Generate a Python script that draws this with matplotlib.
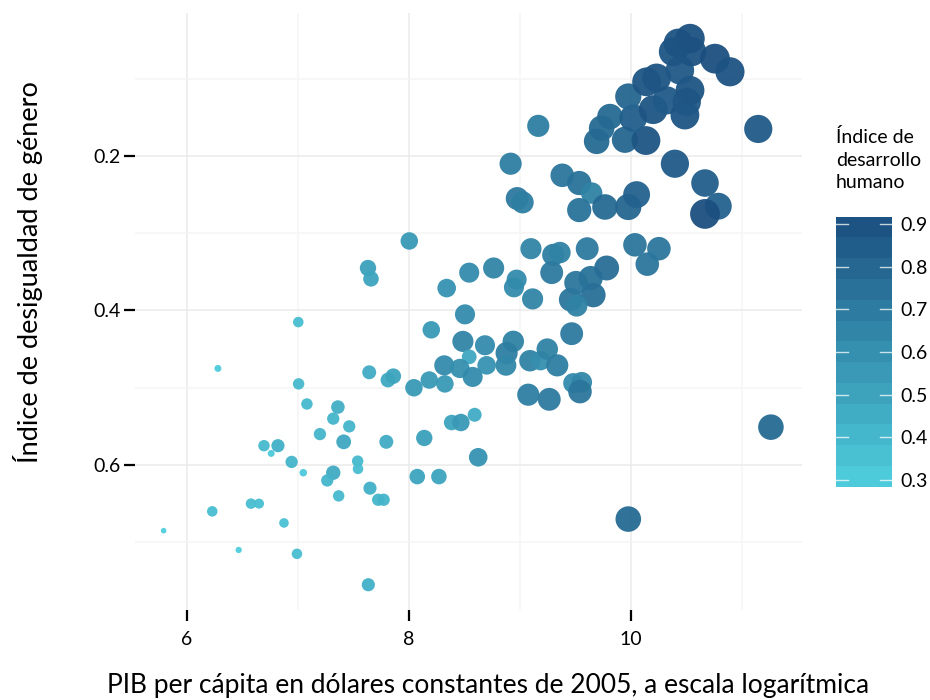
import numpy as np
import matplotlib
matplotlib.use('Agg')
import matplotlib.pyplot as plt
from matplotlib.colors import LinearSegmentedColormap, Normalize

plt.rcParams['font.family'] = ['Lato', 'DejaVu Sans']

# log GDP per capita, gender inequality index, human development index
gdp_log = [5.79, 6.466, 6.279, 6.228, 6.577, 6.649, 6.874, 6.991, 7.003, 7.006,
           7.081, 6.694, 6.820, 6.759, 6.943, 7.048, 7.198, 7.318, 7.360, 7.462,
           7.412, 7.318, 7.264, 7.538, 7.541, 7.367, 7.649, 7.723, 7.772, 7.634,
           7.796, 8.075, 8.270, 8.138, 8.624, 8.592, 8.385, 8.468, 7.642, 7.811,
           7.859, 8.045, 8.183, 8.324, 8.201, 8.340, 8.505, 8.486, 8.685, 8.543,
           8.318, 8.459, 8.574, 8.700, 8.003, 7.631, 7.658, 8.543, 8.763, 8.970,
           8.946, 9.114, 9.099, 9.300, 9.360, 9.286, 9.606, 10.036, 9.505, 9.637,
           9.781, 9.661, 9.457, 9.511, 9.466, 8.940, 8.880, 8.874, 9.090, 9.186,
           9.246, 9.336, 9.075, 9.264, 9.480, 9.556, 9.541, 9.976, 11.261, 10.147,
           10.252, 9.165, 8.916, 8.975, 9.024, 9.381, 9.534, 9.646, 9.534, 9.766,
           9.976, 10.051, 10.396, 10.667, 10.787, 10.667, 11.147, 9.691, 9.736, 9.811,
           9.946, 10.135, 10.021, 9.976, 10.200, 10.322, 10.486, 10.502, 10.532, 10.141,
           10.231, 10.441, 10.381, 10.547, 10.426, 10.532, 10.757, 10.892]
gii = [0.685, 0.710, 0.475, 0.660, 0.650, 0.650, 0.675, 0.715, 0.415, 0.495,
       0.521, 0.575, 0.575, 0.585, 0.596, 0.610, 0.560, 0.540, 0.525, 0.550,
       0.570, 0.610, 0.620, 0.595, 0.605, 0.640, 0.630, 0.645, 0.645, 0.755,
       0.570, 0.615, 0.615, 0.565, 0.590, 0.535, 0.545, 0.545, 0.480, 0.490,
       0.485, 0.500, 0.490, 0.495, 0.425, 0.371, 0.405, 0.440, 0.445, 0.460,
       0.471, 0.475, 0.486, 0.471, 0.310, 0.345, 0.359, 0.351, 0.345, 0.360,
       0.370, 0.385, 0.320, 0.328, 0.325, 0.351, 0.320, 0.315, 0.364, 0.358,
       0.345, 0.380, 0.386, 0.394, 0.430, 0.440, 0.455, 0.471, 0.465, 0.465,
       0.450, 0.471, 0.509, 0.515, 0.494, 0.493, 0.505, 0.670, 0.551, 0.340,
       0.320, 0.161, 0.210, 0.255, 0.260, 0.225, 0.235, 0.248, 0.270, 0.266,
       0.266, 0.250, 0.210, 0.235, 0.265, 0.275, 0.165, 0.181, 0.164, 0.149,
       0.179, 0.180, 0.151, 0.123, 0.140, 0.128, 0.147, 0.130, 0.115, 0.104,
       0.099, 0.089, 0.065, 0.065, 0.054, 0.048, 0.074, 0.091]
hdi = [0.29, 0.30, 0.31, 0.38, 0.38, 0.37, 0.36, 0.38, 0.38, 0.40,
       0.40, 0.40, 0.44, 0.31, 0.42, 0.32, 0.42, 0.42, 0.45, 0.42,
       0.48, 0.47, 0.42, 0.40, 0.38, 0.40, 0.44, 0.42, 0.42, 0.44,
       0.46, 0.50, 0.50, 0.52, 0.58, 0.46, 0.50, 0.55, 0.46, 0.48,
       0.50, 0.55, 0.55, 0.55, 0.55, 0.58, 0.62, 0.65, 0.62, 0.48,
       0.62, 0.60, 0.62, 0.58, 0.55, 0.52, 0.50, 0.62, 0.65, 0.62,
       0.62, 0.65, 0.65, 0.68, 0.66, 0.70, 0.70, 0.72, 0.72, 0.74,
       0.76, 0.75, 0.72, 0.66, 0.70, 0.66, 0.68, 0.64, 0.66, 0.60,
       0.66, 0.68, 0.68, 0.70, 0.62, 0.64, 0.72, 0.78, 0.78, 0.72,
       0.72, 0.68, 0.68, 0.70, 0.68, 0.72, 0.74, 0.66, 0.74, 0.78,
       0.80, 0.82, 0.86, 0.84, 0.82, 0.91, 0.86, 0.78, 0.78, 0.78,
       0.80, 0.88, 0.84, 0.80, 0.88, 0.86, 0.88, 0.87, 0.88, 0.88,
       0.88, 0.87, 0.88, 0.89, 0.89, 0.90, 0.91, 0.89]

hdi_lo, hdi_hi = 0.284, 0.917
x_ticks = [6, 8, 10]
y_ticks = [0.2, 0.4, 0.6]
cbar_ticks = [0.3, 0.4, 0.5, 0.6, 0.7, 0.8, 0.9]

cmap = LinearSegmentedColormap.from_list('hdi', ['#4fd0de', '#1b4e7f'])
norm = Normalize(hdi_lo, hdi_hi)

fig = plt.figure(figsize=(9.3, 7), dpi=100)
ax = fig.add_axes([135/930, 1-610/700, 667/930, 597/700])

h = np.array(hdi)
r = np.clip((h - hdi_lo)/(hdi_hi - hdi_lo), 0, 1)
diam = 5 + 25*r**0.8  # pixels
sizes = (diam*72/100)**2
ax.scatter(gdp_log, gii, s=sizes, c=h, cmap=cmap, norm=norm, alpha=0.95,
           linewidths=0, zorder=3)

ax.set_xlim(5.532, 11.541)
ax.set_ylim(0.7877, 0.0149)
ax.set_xticks(x_ticks)
ax.set_xticks([7, 9, 11], minor=True)
ax.set_yticks(y_ticks)
ax.set_yticks([0.1, 0.3, 0.5, 0.7], minor=True)
ax.set_yticklabels(['0.2', '0.4', '0.6'])
ax.grid(which='major', color='#ebebeb', lw=1.1, zorder=0)
ax.grid(which='minor', color='#f5f5f5', lw=1.1, zorder=0)
for s in ax.spines.values():
    s.set_visible(False)
ax.tick_params(which='minor', length=0)
ax.tick_params(axis='x', which='major', length=8, width=1.6, pad=7, labelsize=14, colors='black')
ax.tick_params(axis='y', which='major', length=8, width=1.6, pad=2, labelsize=14, colors='black')

fig.text(488/930, 1-686/700, 'PIB per cápita en dólares constantes de 2005, a escala logarítmica',
         ha='center', va='center', fontsize=19)
fig.text(28/930, 1-272/700, 'Índice de desigualdad de género', rotation=90,
         ha='center', va='center', fontsize=19.5)

# legend colourbar
cax = fig.add_axes([836/930, 1-486.7/700, 56/930, 270/700])
bounds = np.linspace(hdi_lo, hdi_hi, 14)
centers = (bounds[:-1] + bounds[1:])/2
cax.pcolormesh([0, 1], bounds, centers[:, None], cmap=cmap, norm=norm)
cax.set_xlim(0, 1)
cax.set_ylim(hdi_lo, hdi_hi)
for t in cbar_ticks:
    cax.plot([0, 0.21], [t, t], color='white', lw=1, alpha=0.75)
    cax.plot([0.79, 1], [t, t], color='white', lw=1, alpha=0.75)
cax.set_xticks([])
cax.yaxis.tick_right()
cax.set_yticks(cbar_ticks)
cax.set_yticklabels([str(t) for t in cbar_ticks])
cax.tick_params(axis='y', length=0, pad=6, labelsize=14)
for s in cax.spines.values():
    s.set_visible(False)
fig.text(836/930, 1-128/700, 'Índice de\ndesarrollo\nhumano', ha='left', va='top',
         fontsize=14, linespacing=1.4)

fig.savefig('out.png', dpi=100)
